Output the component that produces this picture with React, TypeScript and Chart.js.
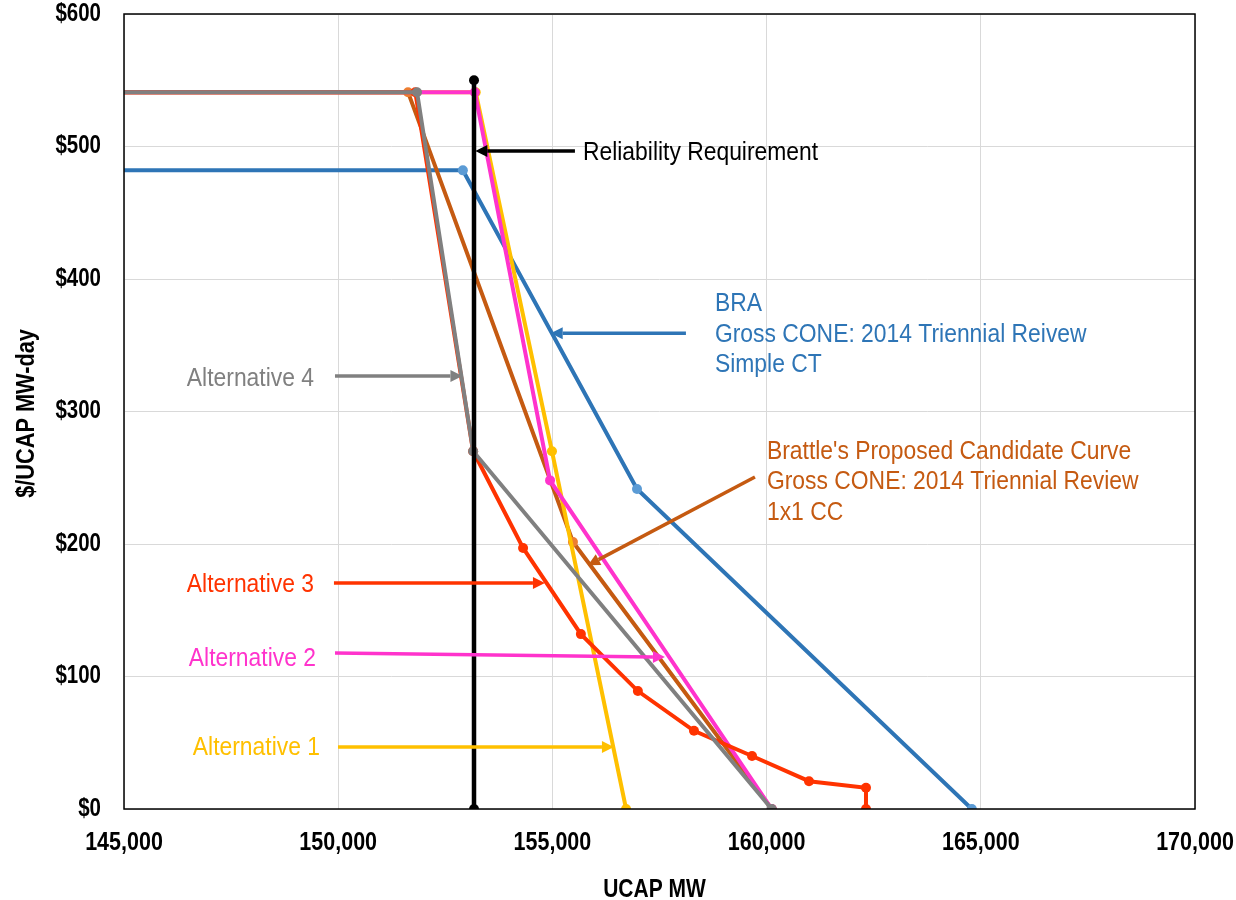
import React, { useEffect, useRef } from "react";
import { Chart, registerables } from "chart.js";

Chart.register(...registerables);

const FONT = "'Liberation Sans', Arial, sans-serif";

// Axis ranges / ticks
const xTickValues = [145000, 150000, 155000, 160000, 165000, 170000];
const xTickLabels = ["145,000", "150,000", "155,000", "160,000", "165,000", "170,000"];
const yTickValues = [0, 100, 200, 300, 400, 500, 600];
const yTickLabels = ["$0", "$100", "$200", "$300", "$400", "$500", "$600"];
const xTitle = "UCAP MW";
const yTitle = "$/UCAP MW-day";

// Series (UCAP MW, $/MW-day)
const reliabilityX = [153170, 153170];
const reliabilityY = [0, 550];

const braX = [145000, 152910, 156975, 164790];
const braY = [482, 482, 241.5, 0];

const brattleX = [145000, 151630, 155480, 160120];
const brattleY = [541, 541, 201.5, 0];

const alt1X = [145000, 153210, 154990, 156720];
const alt1Y = [541, 541, 270, 0];

const alt2X = [145000, 153190, 154945, 160120];
const alt2Y = [541, 541, 248, 0];

const alt3X = [145000, 151800, 153150, 154315, 155665, 156995, 158305, 159660, 160990, 162320, 162320];
const alt3Y = [541, 541, 270, 197, 132, 89, 59, 40, 21, 16, 0];

const alt4X = [145000, 151840, 153150, 160120];
const alt4Y = [541, 541, 270, 0];

// Annotation labels
const noteTexts = [
  ["Reliability Requirement"],
  ["BRA", "Gross CONE: 2014 Triennial Reivew", "Simple CT"],
  ["Alternative 4"],
  ["Brattle's Proposed Candidate Curve", "Gross CONE: 2014 Triennial Review", "1x1 CC"],
  ["Alternative 3"],
  ["Alternative 2"],
  ["Alternative 1"],
];
const noteColors = ["#000000", "#2E75B6", "#808080", "#C55A11", "#FF3300", "#FF33CC", "#FFC000"];
const noteAlign = ["left", "left", "right", "left", "right", "right", "right"];
const noteX = [155713, 158794, 149435, 160008, 149435, 149481, 149575];
const noteY = [495, 381, 324.5, 269.5, 169, 113.2, 46];
const arrowFromX = [155526, 158117, 149925, 159728, 149901, 149925, 149995];
const arrowFromY = [496.6, 359, 326.8, 250.6, 170.6, 117.7, 46.8];
const arrowToX = [153200, 154960, 152900, 155830, 154826, 157627, 156437];
const arrowToY = [496.6, 359, 326.8, 184, 170.6, 114.7, 46.8];

const pts = (xs: number[], ys: number[]) => xs.map((x, i) => ({ x, y: ys[i] }));
const radii = (n: number, first = 0) => Array.from({ length: n }, (_, i) => (i === 0 ? first : 5));

function narrowText(
  ctx: CanvasRenderingContext2D,
  text: string,
  x: number,
  y: number,
  align: CanvasTextAlign,
  baseline: CanvasTextBaseline,
  sx: number,
  rot = 0
) {
  ctx.save();
  ctx.translate(x, y);
  if (rot) ctx.rotate(rot);
  ctx.scale(sx, 1);
  ctx.textAlign = align;
  ctx.textBaseline = baseline;
  ctx.fillText(text, 0, 0);
  ctx.restore();
}

const notesPlugin = {
  id: "notes",
  afterDatasetsDraw(chart: any) {
    const { ctx, chartArea, scales } = chart;
    const xs = scales.x;
    const ys = scales.y;
    ctx.save();
    // plot border
    ctx.strokeStyle = "#000";
    ctx.lineWidth = 1.5;
    ctx.strokeRect(chartArea.left, chartArea.top, chartArea.right - chartArea.left, chartArea.bottom - chartArea.top);

    // tick labels
    ctx.fillStyle = "#000";
    ctx.font = `bold 25px ${FONT}`;
    yTickValues.forEach((v, i) => {
      narrowText(ctx, yTickLabels[i], chartArea.left - 23, ys.getPixelForValue(v), "right", "middle", 0.82);
    });
    xTickValues.forEach((v, i) => {
      narrowText(ctx, xTickLabels[i], xs.getPixelForValue(v), chartArea.bottom + 41, "center", "alphabetic", 0.86);
    });
    // axis titles
    narrowText(ctx, xTitle, (chartArea.left + chartArea.right) / 2 - 5, chartArea.bottom + 88, "center", "alphabetic", 0.84);
    narrowText(ctx, yTitle, 33.5, (chartArea.top + chartArea.bottom) / 2 + 2, "center", "alphabetic", 0.87, -Math.PI / 2);

    for (let i = 0; i < noteTexts.length; i++) {
      const color = noteColors[i];
      const x1 = xs.getPixelForValue(arrowFromX[i]);
      const y1 = ys.getPixelForValue(arrowFromY[i]);
      const x2 = xs.getPixelForValue(arrowToX[i]);
      const y2 = ys.getPixelForValue(arrowToY[i]);
      const ang = Math.atan2(y2 - y1, x2 - x1);
      const headLen = 12;
      const headW = 6;
      const bx = x2 - headLen * Math.cos(ang);
      const by = y2 - headLen * Math.sin(ang);
      ctx.strokeStyle = color;
      ctx.fillStyle = color;
      ctx.lineWidth = 3.5;
      ctx.beginPath();
      ctx.moveTo(x1, y1);
      ctx.lineTo(bx, by);
      ctx.stroke();
      ctx.beginPath();
      ctx.moveTo(x2, y2);
      ctx.lineTo(bx + headW * Math.sin(ang), by - headW * Math.cos(ang));
      ctx.lineTo(bx - headW * Math.sin(ang), by + headW * Math.cos(ang));
      ctx.closePath();
      ctx.fill();
      // text
      ctx.font = `25px ${FONT}`;
      const tx = xs.getPixelForValue(noteX[i]);
      const ty = ys.getPixelForValue(noteY[i]);
      noteTexts[i].forEach((line, j) => {
        narrowText(ctx, line, tx, ty + j * 30.5, noteAlign[i] as CanvasTextAlign, "middle", 0.915);
      });
    }
    ctx.restore();
  },
};

export default function App() {
  const canvasRef = useRef<HTMLCanvasElement | null>(null);

  useEffect(() => {
    if (!canvasRef.current) return;
    const common = { showLine: true, borderWidth: 4, pointHoverRadius: 5, pointBorderWidth: 0 };
    const chart = new Chart(canvasRef.current, {
      type: "scatter",
      data: {
        datasets: [
          {
            ...common,
            label: "Reliability Requirement",
            data: pts(reliabilityX, reliabilityY),
            borderColor: "#000000",
            backgroundColor: "#000000",
            pointRadius: [5, 5],
            borderWidth: 4.5,
          },
          {
            ...common,
            label: "Alternative 4",
            data: pts(alt4X, alt4Y),
            borderColor: "#808080",
            backgroundColor: "#808080",
            pointRadius: radii(alt4X.length),
          },
          {
            ...common,
            label: "Alternative 3",
            data: pts(alt3X, alt3Y),
            borderColor: "#FF3300",
            backgroundColor: "#FF3300",
            pointRadius: radii(alt3X.length),
          },
          {
            ...common,
            label: "Alternative 2",
            data: pts(alt2X, alt2Y),
            borderColor: "#FF33CC",
            backgroundColor: "#FF33CC",
            pointRadius: radii(alt2X.length),
          },
          {
            ...common,
            label: "Alternative 1",
            data: pts(alt1X, alt1Y),
            borderColor: "#FFC000",
            backgroundColor: "#FFC000",
            pointRadius: radii(alt1X.length),
          },
          {
            ...common,
            label: "Brattle",
            data: pts(brattleX, brattleY),
            borderColor: "#C55A11",
            backgroundColor: "#ED7D31",
            pointRadius: radii(brattleX.length),
          },
          {
            ...common,
            label: "BRA",
            data: pts(braX, braY),
            borderColor: "#2E75B6",
            backgroundColor: "#5B9BD5",
            pointRadius: radii(braX.length),
          },
        ],
      },
      options: {
        animation: false,
        responsive: true,
        maintainAspectRatio: false,
        layout: { padding: { top: 14, right: 41, left: 0, bottom: 0 } },
        plugins: { legend: { display: false }, tooltip: { enabled: false } },
        scales: {
          x: {
            type: "linear",
            min: xTickValues[0],
            max: xTickValues[xTickValues.length - 1],
            afterFit: (s: any) => {
              s.height = 91;
              s.paddingLeft = 0;
              s.paddingRight = 0;
            },
            afterBuildTicks: (s: any) => {
              s.ticks = xTickValues.map((value) => ({ value }));
            },
            grid: { color: "#D9D9D9", lineWidth: 1, drawTicks: false },
            border: { display: false },
            ticks: { display: false },
            title: { display: false },
          },
          y: {
            type: "linear",
            min: yTickValues[0],
            max: yTickValues[yTickValues.length - 1],
            afterFit: (s: any) => {
              s.width = 124;
              s.paddingTop = 0;
              s.paddingBottom = 0;
            },
            afterBuildTicks: (s: any) => {
              s.ticks = yTickValues.map((value) => ({ value }));
            },
            grid: { color: "#D9D9D9", lineWidth: 1, drawTicks: false },
            border: { display: false },
            ticks: { display: false },
            title: { display: false },
          },
        },
      },
      plugins: [notesPlugin],
    });
    return () => chart.destroy();
  }, []);

  return (
    <div style={{ position: "absolute", left: 0, top: 0, width: 1236, height: 900, background: "#fff" }}>
      <canvas ref={canvasRef} />
    </div>
  );
}
